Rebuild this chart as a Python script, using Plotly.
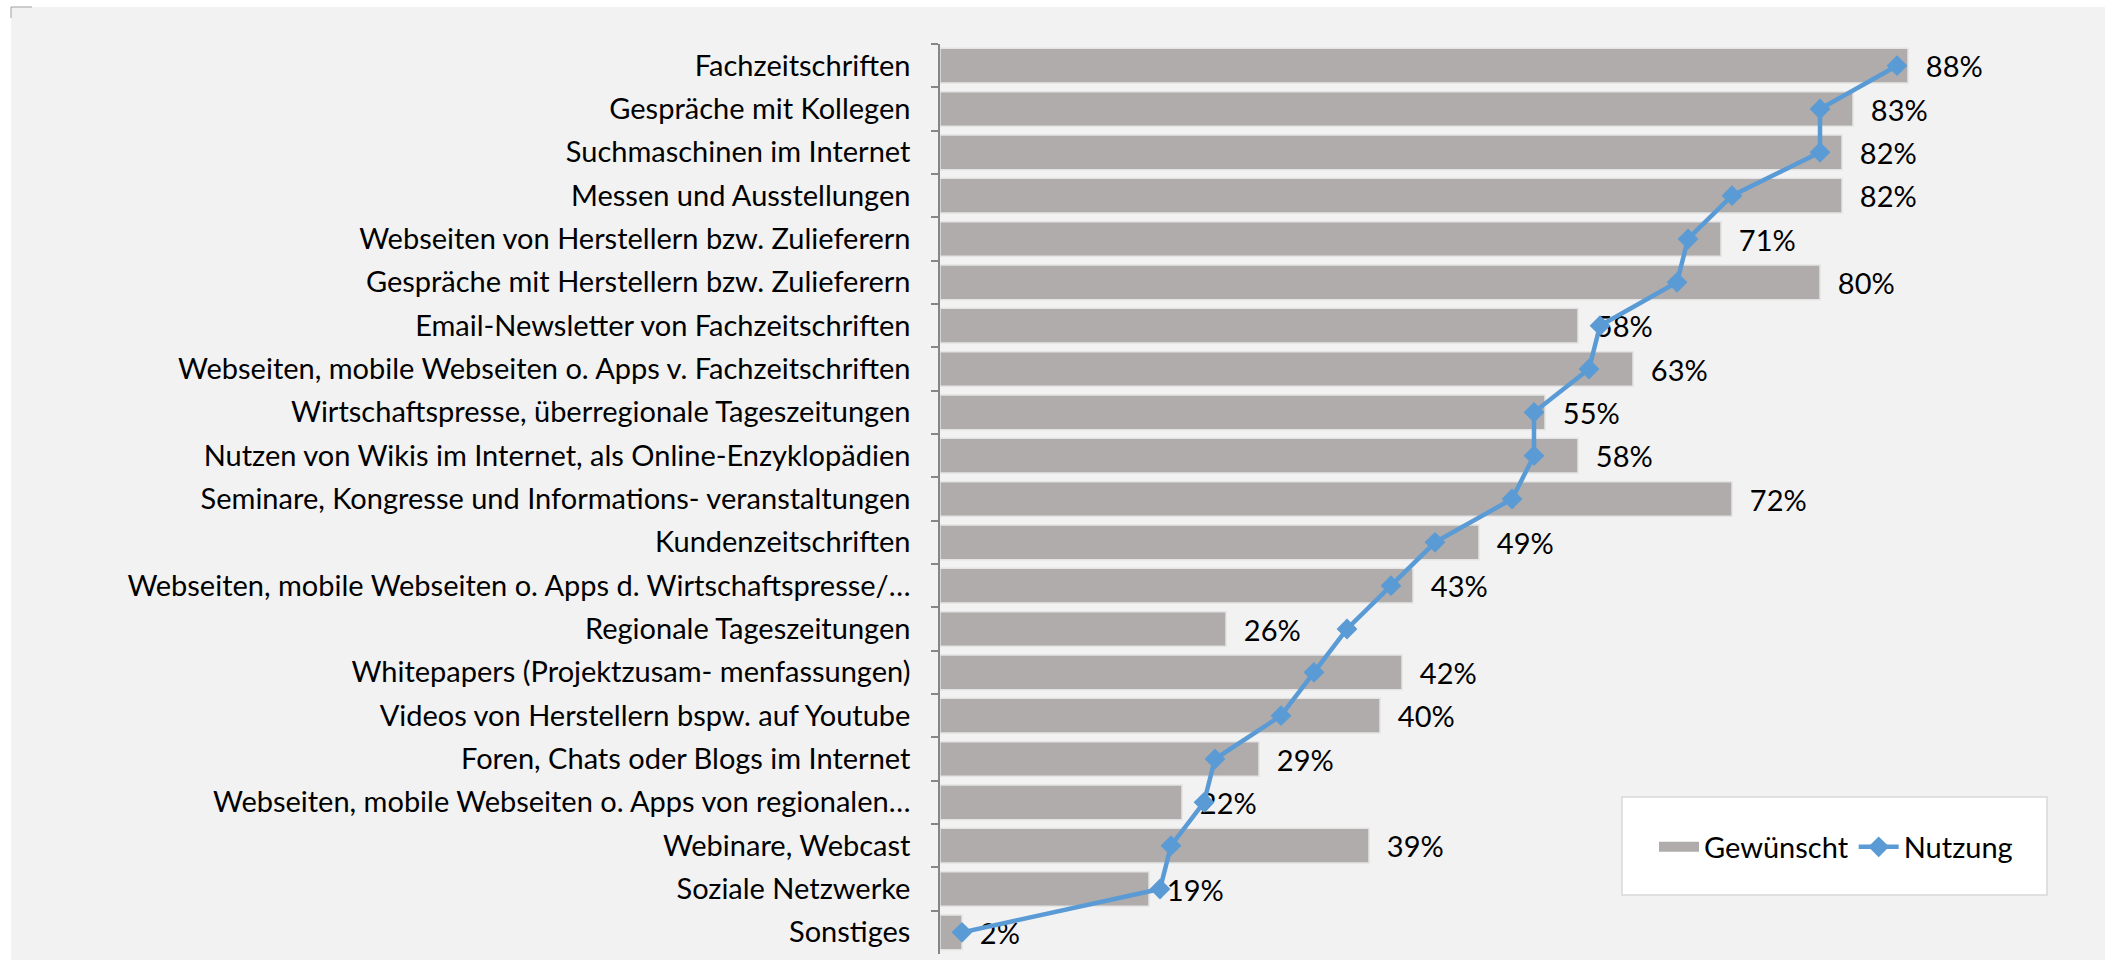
import plotly.graph_objects as go

categories = [
    "Fachzeitschriften",
    "Gespräche mit Kollegen",
    "Suchmaschinen im Internet",
    "Messen und Ausstellungen",
    "Webseiten von Herstellern bzw. Zulieferern",
    "Gespräche mit Herstellern bzw. Zulieferern",
    "Email-Newsletter von Fachzeitschriften",
    "Webseiten, mobile Webseiten o. Apps v. Fachzeitschriften",
    "Wirtschaftspresse, überregionale Tageszeitungen",
    "Nutzen von Wikis im Internet, als Online-Enzyklopädien",
    "Seminare, Kongresse und Informations- veranstaltungen",
    "Kundenzeitschriften",
    "Webseiten, mobile Webseiten o. Apps d. Wirtschaftspresse/…",
    "Regionale Tageszeitungen",
    "Whitepapers (Projektzusam- menfassungen)",
    "Videos von Herstellern bspw. auf Youtube",
    "Foren, Chats oder Blogs im Internet",
    "Webseiten, mobile Webseiten o. Apps von regionalen…",
    "Webinare, Webcast",
    "Soziale Netzwerke",
    "Sonstiges",
]
gewuenscht = [88, 83, 82, 82, 71, 80, 58, 63, 55, 58, 72, 49, 43, 26, 42, 40, 29, 22, 39, 19, 2]
nutzung = [87, 80, 80, 72, 68, 67, 60, 59, 54, 54, 52, 45, 41, 37, 34, 31, 25, 24, 21, 20, 2]

FONT = "Lato"
FS = 29
BAR_COLOR = "#AFACAB"
LINE_COLOR = "#5B9BD5"

fig = go.Figure()
fig.add_trace(go.Bar(
    y=categories, x=gewuenscht, orientation="h", name="Gewünscht",
    marker=dict(color=BAR_COLOR, line=dict(color="#E4E4E4", width=1.5)),
    text=gewuenscht, texttemplate="\u00a0\u00a0%{x}%", textposition="outside",
    textfont=dict(family=FONT, size=FS, color="#000000"),
    constraintext="none", cliponaxis=False, showlegend=False,
))
# legend-only swatch for the bars (wide grey rectangle like the original)
fig.add_trace(go.Scatter(
    x=[None], y=[None], mode="lines", name="Gewünscht",
    line=dict(color=BAR_COLOR, width=17), showlegend=True,
))
fig.add_trace(go.Scatter(
    y=categories, x=nutzung, mode="lines+markers", name="Nutzung",
    line=dict(color=LINE_COLOR, width=4.5),
    marker=dict(symbol="diamond", size=16, color=LINE_COLOR),
    cliponaxis=False,
))

L, R, T, B = 940, 15, 44, 6
W, H = 2105, 960
pw, ph = W - L - R, H - T - B

def px(x):
    return (x - L) / pw

def py(y):
    return (H - B - y) / ph

n = len(categories)
fig.update_layout(
    template="none",
    width=W, height=H,
    margin=dict(l=L, r=R, t=T, b=B, pad=0, autoexpand=False),
    paper_bgcolor="#FFFFFF",
    plot_bgcolor="rgba(0,0,0,0)",
    bargap=0.2,
    font=dict(family=FONT, size=FS, color="#000000"),
    showlegend=True,
    legend=dict(
        orientation="h", x=px(1836), y=py(847), xanchor="center", yanchor="middle",
        bgcolor="rgba(0,0,0,0)", borderwidth=0,
        font=dict(family=FONT, size=FS, color="#000000"),
        itemwidth=40, traceorder="normal",
    ),
    xaxis=dict(range=[0, pw / 11.0], showgrid=False, zeroline=False,
               showticklabels=False, showline=False, ticks="",
               automargin=False, fixedrange=True),
    yaxis=dict(range=[n - 0.5, -0.5], showgrid=False, zeroline=False,
               automargin=False,
               showline=True, linecolor="#868686", linewidth=1.5,
               ticks="outside", ticklen=7, tickcolor="#868686", tickwidth=1.5,
               tickson="boundaries", ticklabelstandoff=22,
               tickfont=dict(family=FONT, size=FS, color="#000000")),
    shapes=[
        dict(type="rect", xref="paper", yref="paper", layer="below",
             x0=px(11), x1=px(W + 5), y0=py(H + 5), y1=py(7),
             fillcolor="#F2F2F2", line=dict(width=0)),
        dict(type="rect", xref="paper", yref="paper", layer="above",
             x0=px(1622), x1=px(2047), y0=py(895), y1=py(797),
             fillcolor="#FFFFFF", line=dict(color="#D9D9D9", width=1.5)),
        dict(type="path", xref="paper", yref="paper", layer="above",
             path=f"M {px(11)} {py(18)} L {px(11)} {py(7)} L {px(32)} {py(7)}",
             line=dict(color="#A0A0A0", width=1)),
    ],
)

fig.write_html(
    "out.html",
    config={"displayModeBar": False},
    post_script="document.body.style.margin='0';document.body.style.overflow='hidden';",
)
